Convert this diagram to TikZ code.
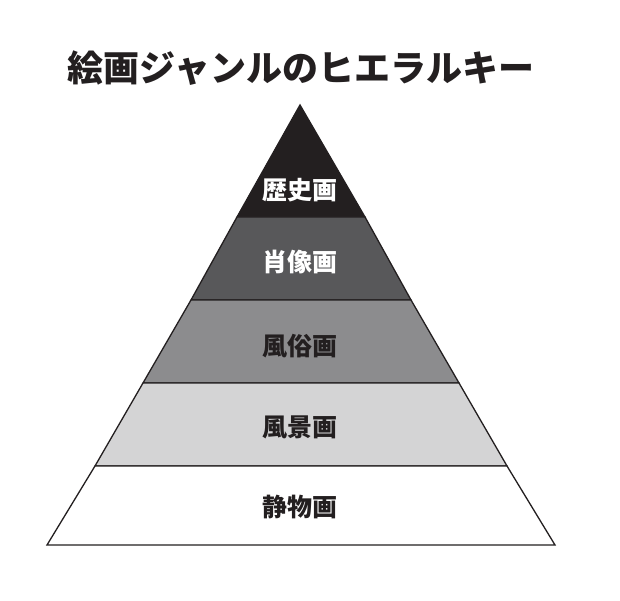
\documentclass[tikz,border=0pt]{standalone}
\usepackage{fontspec}
\newfontfamily\cjk{Noto Sans CJK JP}
\definecolor{c1}{HTML}{231F20}
\definecolor{c2}{HTML}{58585A}
\definecolor{c3}{HTML}{8C8C8E}
\definecolor{c4}{HTML}{D4D4D5}
\begin{document}
\begin{tikzpicture}[x=1pt,y=-1pt,
  band/.style={draw=c1,line width=1.3pt,line join=miter},
  lbl/.style={font=\cjk\bfseries\fontsize{25}{25}\selectfont}]
\useasboundingbox (0,0) rectangle (620,601);
\fill[white] (0,0) rectangle (620,601);
\filldraw[band,fill=c1] (300,105) -- (365,217) -- (237,217) -- cycle;
\filldraw[band,fill=c2] (237,217) -- (365,217) -- (411,300) -- (191,300) -- cycle;
\filldraw[band,fill=c3] (191,300) -- (411,300) -- (459,383) -- (143,383) -- cycle;
\filldraw[band,fill=c4] (143,383) -- (459,383) -- (507,466) -- (95,466) -- cycle;
\filldraw[band,fill=white] (95,466) -- (507,466) -- (555,545) -- (47,545) -- cycle;
\node[lbl,text=white] (l1) at (300,190) {歴史画};
\node[lbl,text=white] (l2) at (300,262) {肖像画};
\node[lbl,text=c1] (l3) at (300,346) {風俗画};
\node[lbl,text=c1] (l4) at (300,427) {風景画};
\node[lbl,text=c1] (l5) at (300,507) {静物画};
\node[font=\cjk\bfseries\fontsize{36}{36}\selectfont,text=c1] (t) at (301,68) {絵画ジャンルのヒエラルキー};
\end{tikzpicture}
\end{document}
